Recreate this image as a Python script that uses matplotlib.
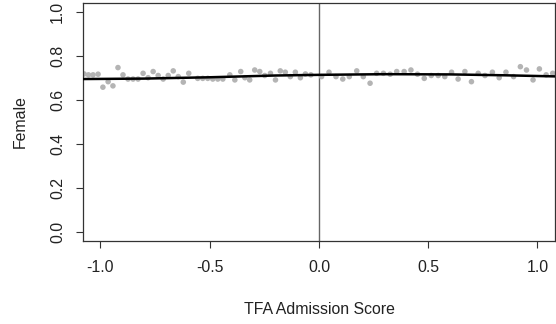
import numpy as np
import matplotlib
matplotlib.use("Agg")
import matplotlib.pyplot as plt

plt.rcParams['font.family'] = ['Liberation Sans', 'DejaVu Sans']
plt.rcParams['axes.unicode_minus'] = False

# binned means
bin_x = [-1.075, -1.055, -1.034, -1.011, -0.989, -0.965, -0.943, -0.920, -0.897, -0.874,
         -0.851, -0.828, -0.805, -0.782, -0.759, -0.736, -0.713, -0.690, -0.667, -0.644,
         -0.621, -0.596, -0.555, -0.532, -0.509, -0.486, -0.463, -0.440, -0.408, -0.385,
         -0.358, -0.339, -0.317, -0.294, -0.271, -0.248, -0.222, -0.199, -0.177, -0.154,
         -0.131, -0.108, -0.085, -0.062, -0.037, 0.012, 0.046, 0.078, 0.109, 0.139,
         0.173, 0.203, 0.234, 0.264, 0.295, 0.326, 0.356, 0.390, 0.421, 0.451,
         0.482, 0.514, 0.546, 0.576, 0.607, 0.637, 0.668, 0.698, 0.729, 0.760,
         0.794, 0.825, 0.856, 0.891, 0.922, 0.950, 0.980, 1.009, 1.040, 1.070]
bin_y = [0.718, 0.714, 0.714, 0.717, 0.658, 0.683, 0.664, 0.747, 0.714, 0.695,
         0.695, 0.695, 0.721, 0.701, 0.729, 0.711, 0.695, 0.711, 0.732, 0.706,
         0.681, 0.721, 0.698, 0.698, 0.698, 0.695, 0.695, 0.695, 0.714, 0.691,
         0.729, 0.701, 0.691, 0.736, 0.729, 0.711, 0.721, 0.691, 0.732, 0.726,
         0.706, 0.726, 0.701, 0.718, 0.714, 0.706, 0.726, 0.706, 0.695, 0.706,
         0.732, 0.706, 0.676, 0.721, 0.721, 0.717, 0.729, 0.729, 0.736, 0.717,
         0.698, 0.711, 0.711, 0.706, 0.726, 0.695, 0.729, 0.683, 0.721, 0.711,
         0.726, 0.701, 0.726, 0.706, 0.751, 0.736, 0.691, 0.741, 0.714, 0.721]

# smoothed fit
fit_x = [-1.08, -0.8, -0.5, -0.2, 0.0, 0.3, 0.6, 0.85, 1.08]
fit_y = [0.695, 0.697, 0.703, 0.711, 0.714, 0.717, 0.716, 0.712, 0.707]

x_ticks = [-1.0, -0.5, 0.0, 0.5, 1.0]
y_ticks = [0.0, 0.2, 0.4, 0.6, 0.8, 1.0]

fig = plt.figure(figsize=(5.56, 3.24), dpi=100)
ax = fig.add_axes([0.1493, 0.2562, 0.8487, 0.7345])

ax.scatter(bin_x, bin_y, s=16, color='#b4b4b4', edgecolors='none', zorder=2)
ax.plot(fit_x, fit_y, color='black', linewidth=1.8, zorder=3)
ax.axvline(0, color='#666666', linewidth=1.0, zorder=1)

ax.set_xlim(-1.08, 1.08)
ax.set_ylim(-0.04, 1.04)
ax.set_xticks(x_ticks)
ax.set_xticklabels([f"{v:.1f}" for v in x_ticks])
ax.set_yticks(y_ticks)
ax.set_yticklabels([f"{v:.1f}" for v in y_ticks], rotation=90, va='center')

ax.tick_params(direction='out', length=5, width=0.8, color='#333333',
               labelsize=11.4, labelcolor='#222222')
ax.tick_params(axis='x', pad=9)
ax.tick_params(axis='y', pad=8)
for s in ax.spines.values():
    s.set_color('#333333')
    s.set_linewidth(0.9)

ax.set_xlabel('TFA Admission Score', fontsize=11.4, color='#222222', labelpad=19)
ax.set_ylabel('Female', fontsize=11.4, color='#222222', labelpad=16)

fig.savefig('out.png', dpi=100)
